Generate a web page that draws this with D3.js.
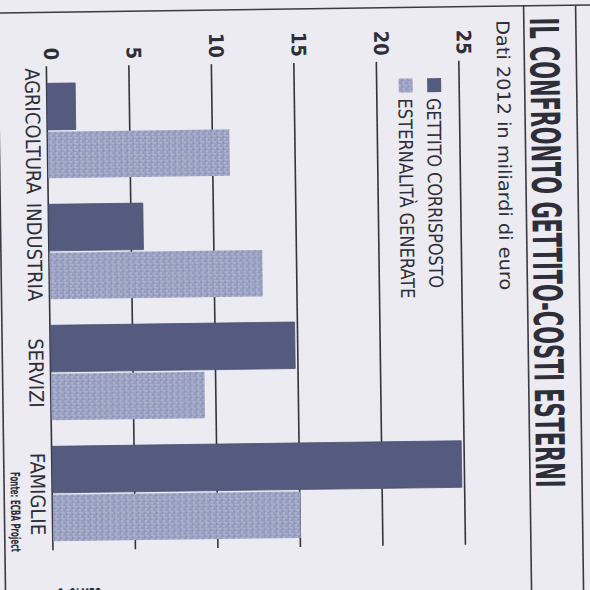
<!DOCTYPE html>
<html>
<head>
<meta charset="utf-8">
<script src="https://cdn.jsdelivr.net/npm/d3@7"></script>
<style>
  body { margin: 0; background: #ebebf1; }
  svg { display: block; }
  text { font-family: "Liberation Sans Narrow", "DejaVu Sans Condensed", "Roboto", sans-serif; fill: #2e2e38; }
</style>
</head>
<body>
<div id="chart"></div>
<script>
var categories = ["AGRICOLTURA", "INDUSTRIA", "SERVIZI", "FAMIGLIE"];
var gettito = [1.7, 5.7, 14.8, 24.8];
var esternalita = [11.0, 12.9, 9.3, 15.0];
var series_names = ["GETTITO CORRISPOSTO", "ESTERNALITÀ GENERATE"];
var tick_values = [0, 5, 10, 15, 20, 25];
var title_text = "IL CONFRONTO GETTITO-COSTI ESTERNI";
var subtitle_text = "Dati 2012 in miliardi di euro";
var source_text = "Fonte: ECBA Project";
var credit_text = "S. OLMEO";

var size = 590;
var dark_color = "#545b7e";
var light_color = "#99a0c2";

var svg = d3.select("#chart").append("svg")
    .attr("width", size)
    .attr("height", size);

// stipple pattern for the second series
var defs = svg.append("defs");
var pattern = defs.append("pattern")
    .attr("id", "stipple")
    .attr("patternUnits", "userSpaceOnUse")
    .attr("width", 6)
    .attr("height", 6);
pattern.append("rect").attr("width", 6).attr("height", 6).attr("fill", light_color);
[[1, 1, "#c4c8de"], [4, 3, "#c9cde2"], [2, 4.5, "#7f87ac"], [5, 0.5, "#8a91b4"], [0.5, 3, "#b7bcd6"]]
    .forEach(function(d) {
        pattern.append("circle").attr("cx", d[0]).attr("cy", d[1]).attr("r", 0.8).attr("fill", d[2]);
    });

// the scan is slightly skewed
var page = svg.append("g").attr("transform", "rotate(-0.78 295 295)");

page.append("rect")
    .attr("x", -10).attr("y", -10)
    .attr("width", size + 20).attr("height", size + 20)
    .attr("fill", "#ebebf1");

// frame lines
var frame = [[0, 9, 600, 9], [1.5, 9, 1.5, 600], [527.5, 9, 527.5, 600], [579.5, 9, 579.5, 600]];
page.selectAll("line.frame").data(frame).enter().append("line")
    .attr("class", "frame")
    .attr("x1", d => d[0]).attr("y1", d => d[1])
    .attr("x2", d => d[2]).attr("y2", d => d[3])
    .attr("stroke", "#3a3a44")
    .attr("stroke-width", 1.6);

page.append("text")
    .attr("x", 53).attr("y", 597)
    .style("font-size", "16px")
    .style("font-weight", "bold")
    .style("font-style", "italic")
    .attr("textLength", 44)
    .attr("lengthAdjust", "spacingAndGlyphs")
    .text(credit_text);

// chart is printed rotated 90 degrees clockwise
var chart = page.append("g").attr("transform", "translate(590 0) rotate(90)");

var x_scale = d3.scaleBand()
    .domain(categories)
    .range([80, 538])
    .paddingInner(0.215)
    .paddingOuter(0);

var x_inner = d3.scaleBand()
    .domain(series_names)
    .range([0, x_scale.bandwidth()])
    .paddingInner(0.04);

var y_scale = d3.scaleLinear()
    .domain([0, 25])
    .range([540, 127.5]);

var grid_left = 63, grid_right = 547;
var left_axis = d3.axisLeft(y_scale)
    .tickValues(tick_values)
    .tickSize(-(grid_right - grid_left))
    .tickPadding(6)
    .tickFormat(d3.format("d"));

var y_axis = chart.append("g")
    .attr("transform", "translate(" + grid_left + ",0)")
    .call(left_axis);
y_axis.select(".domain").remove();
y_axis.selectAll(".tick line")
    .attr("stroke", "#34343e")
    .attr("stroke-width", 1.6);
y_axis.selectAll(".tick text")
    .attr("dy", "0.1em")
    .style("font-size", "20px")
    .style("font-weight", "bold")
    .style("fill", "#2e2e38");

var rows = categories.map((c, i) => ({category: c, values: [gettito[i], esternalita[i]]}));

var groups = chart.selectAll("g.group").data(rows).enter().append("g")
    .attr("class", "group")
    .attr("transform", d => "translate(" + x_scale(d.category) + ",0)");

groups.selectAll("rect").data(d => d.values.map((v, j) => ({series: series_names[j], value: v, j: j})))
    .enter().append("rect")
    .attr("x", d => x_inner(d.series))
    .attr("y", d => y_scale(d.value))
    .attr("width", x_inner.bandwidth())
    .attr("height", d => y_scale(0) - y_scale(d.value))
    .attr("fill", d => d.j === 0 ? dark_color : "url(#stipple)")
    .attr("stroke", d => d.j === 0 ? "#4a5072" : "none")
    .attr("stroke-width", 0.8);

// category labels under the bars
chart.selectAll("text.cat").data(categories).enter().append("text")
    .attr("class", "cat")
    .attr("x", d => x_scale(d) + x_scale.bandwidth() / 2)
    .attr("y", 562)
    .attr("text-anchor", "middle")
    .style("font-size", "20px")
    .text(d => d);

// title and subtitle
chart.append("text")
    .attr("x", 21).attr("y", 56.5)
    .style("font-size", "40px")
    .style("font-weight", "bold")
    .attr("textLength", 470)
    .attr("lengthAdjust", "spacingAndGlyphs")
    .text(title_text);

chart.append("text")
    .attr("x", 23).attr("y", 90)
    .style("font-size", "18px")
    .attr("textLength", 270)
    .attr("lengthAdjust", "spacingAndGlyphs")
    .text(subtitle_text);

// legend
var legend = chart.selectAll("g.legend").data(series_names).enter().append("g")
    .attr("class", "legend")
    .attr("transform", (d, i) => "translate(80," + (146 + i * 28.5) + ")");
legend.append("rect")
    .attr("width", 14).attr("height", 14)
    .attr("fill", (d, i) => i === 0 ? dark_color : "url(#stipple)");
legend.append("text")
    .attr("x", 20).attr("y", 14.5)
    .style("font-size", "19px")
    .attr("textLength", (d, i) => i === 0 ? 190 : 200)
    .attr("lengthAdjust", "spacingAndGlyphs")
    .text(d => d);

// source note
chart.append("text")
    .attr("x", 468).attr("y", 582)
    .style("font-size", "13px")
    .style("font-weight", "bold")
    .attr("textLength", 80)
    .attr("lengthAdjust", "spacingAndGlyphs")
    .text(source_text);
</script>
</body>
</html>
